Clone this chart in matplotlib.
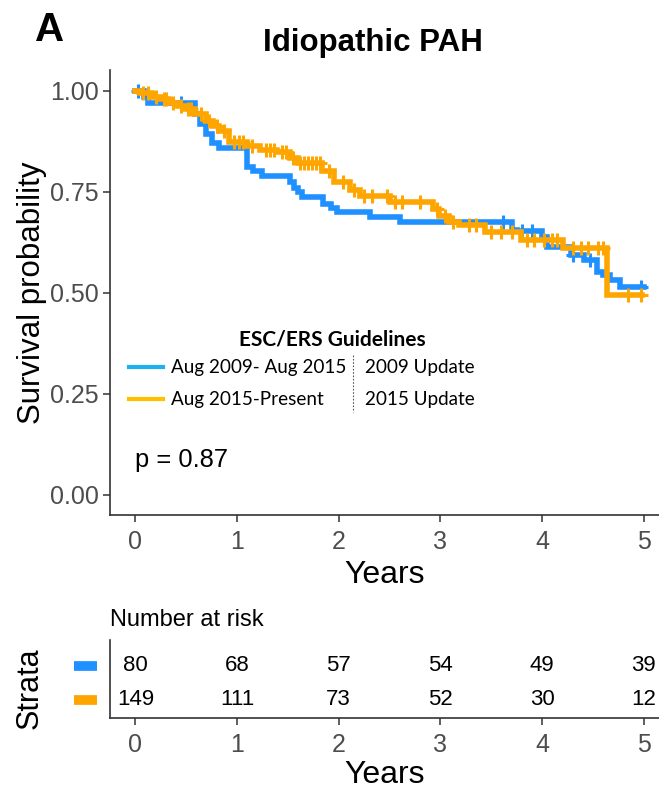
import numpy as np
import matplotlib
matplotlib.use("Agg")
import matplotlib.pyplot as plt
from matplotlib.lines import Line2D

plt.rcParams['font.family'] = ['Liberation Sans', 'DejaVu Sans']

# Kaplan-Meier step data: event times (years) and survival after each step
blue_t = [0.08, 0.12, 0.59, 0.64, 0.69, 0.75, 0.82, 1.10, 1.16, 1.25, 1.52, 1.56,
          1.60, 1.64, 1.85, 1.92, 1.98, 2.31, 2.60, 3.70, 3.75, 4.00, 4.05, 4.28,
          4.41, 4.54, 4.60, 4.67, 4.77]
blue_s = [0.985, 0.968, 0.943, 0.918, 0.893, 0.870, 0.857, 0.810, 0.800, 0.788,
          0.775, 0.760, 0.750, 0.737, 0.720, 0.710, 0.700, 0.687, 0.675, 0.654,
          0.652, 0.638, 0.613, 0.593, 0.580, 0.551, 0.543, 0.531, 0.514]
blue_end = 5.0
blue_cens = [0.03, 0.45, 3.62, 3.80, 3.90, 4.30, 4.47, 4.97]

orange_t = [0.05, 0.16, 0.25, 0.33, 0.42, 0.49, 0.59, 0.69, 0.76, 0.82, 0.92, 1.10,
            1.23, 1.39, 1.52, 1.60, 1.84, 1.95, 2.11, 2.21, 2.50, 2.93, 2.99, 3.08,
            3.18, 3.44, 3.79, 4.21, 4.64]
orange_s = [0.993, 0.985, 0.978, 0.970, 0.962, 0.955, 0.943, 0.925, 0.912, 0.900,
            0.873, 0.864, 0.852, 0.848, 0.832, 0.821, 0.800, 0.773, 0.753, 0.740,
            0.724, 0.708, 0.690, 0.675, 0.667, 0.650, 0.630, 0.610, 0.494]
orange_end = 4.98
orange_cens = [0.07, 0.12, 0.20, 0.28, 0.30, 0.37, 0.45, 0.52, 0.55, 0.65, 0.72,
               0.80, 0.87, 0.97, 1.02, 1.06, 1.15, 1.28, 1.32, 1.36, 1.44, 1.48,
               1.55, 1.62, 1.66, 1.70, 1.74, 1.78, 1.82, 1.90, 2.04, 2.15, 2.25,
               2.33, 2.47, 2.55, 2.62, 2.80, 2.97, 3.05, 3.12, 3.28, 3.35, 3.50,
               3.60, 3.70, 3.85, 3.92, 4.02, 4.10, 4.15, 4.30, 4.38, 4.45, 4.55,
               4.60, 4.85, 4.97]

risk_times = [0, 1, 2, 3, 4, 5]
blue_risk = [80, 68, 57, 54, 49, 39]
orange_risk = [149, 111, 73, 52, 30, 12]

legend_labels = ["Aug 2009- Aug 2015", "Aug 2015-Present"]
legend_notes = ["2009 Update", "2015 Update"]

BLUE = "#1E90FF"
ORANGE = "#FFA500"
LEG_BLUE = "#1FB0F0"
LEG_ORANGE = "#FFC000"
TICK_COL = "#4D4D4D"
LEG_FONT = ['Lato', 'DejaVu Sans']


def km_steps(t, s, end):
    x = np.concatenate([[0.0], t, [end]])
    y = np.concatenate([[1.0], s, [s[-1]]])
    return x, y


def surv_at(t, s, when):
    idx = np.searchsorted(np.asarray(t), np.asarray(when), side='right')
    vals = np.concatenate([[1.0], s])
    return vals[idx]


def style_axis(a):
    for side in ['top', 'right']:
        a.spines[side].set_visible(False)
    for side in ['left', 'bottom']:
        a.spines[side].set_linewidth(1.2)
        a.spines[side].set_color('#333333')
    a.tick_params(axis='both', labelsize=18, labelcolor=TICK_COL,
                  color='#333333', length=5, width=1.1, pad=3)
    a.tick_params(axis='x', pad=6)


fig = plt.figure(figsize=(6.59, 7.90), dpi=100)

ax = fig.add_axes([0.1669, 0.348, 0.8331, 0.563])
for t, s, end, cens, col in [(blue_t, blue_s, blue_end, blue_cens, BLUE),
                             (orange_t, orange_s, orange_end, orange_cens, ORANGE)]:
    x, y = km_steps(t, s, end)
    ax.step(x, y, where='post', color=col, lw=4.0, solid_joinstyle='miter')
    ax.plot(cens, surv_at(t, s, cens), ls='none', marker='+', ms=10, mew=2.2,
            color=col)

ax.set_xlim(-0.25, 5.15)
ax.set_ylim(-0.05, 1.05)
ax.set_xticks([0, 1, 2, 3, 4, 5])
ax.set_yticks([0, 0.25, 0.5, 0.75, 1.0])
ax.set_yticklabels(["0.00", "0.25", "0.50", "0.75", "1.00"])
style_axis(ax)
ax.set_xlabel("Years", fontsize=23, labelpad=4)
ax.set_ylabel("Survival probability", fontsize=22.5, labelpad=2)

ax.text(0.0, 0.085, "p = 0.87", fontsize=18.4, ha='left', va='center')

# guideline legend
fig.text(332 / 659, 1 - 339 / 790, "ESC/ERS Guidelines", fontsize=15,
         fontweight='bold', family=LEG_FONT, ha='center', va='center')
for i, (lab, note, lc) in enumerate(zip(legend_labels, legend_notes,
                                        [LEG_BLUE, LEG_ORANGE])):
    yy = 1 - (367 + 32 * i) / 790
    fig.add_artist(Line2D([129 / 659, 163 / 659], [yy, yy], color=lc, lw=3))
    fig.text(171 / 659, yy, lab, fontsize=13.6, family=LEG_FONT,
             ha='left', va='center')
    fig.text(365 / 659, yy, note, fontsize=13.6, family=LEG_FONT,
             ha='left', va='center')
fig.add_artist(Line2D([353 / 659, 353 / 659], [1 - 355 / 790, 1 - 412 / 790],
                      color='#555555', lw=0.8, ls=(0, (1.5, 1.5))))

fig.text(373 / 659, 1 - 43 / 790, "Idiopathic PAH", fontsize=22.5,
         fontweight='bold', ha='center', va='center')
fig.text(50 / 659, 1 - 30 / 790, "A", fontsize=29, fontweight='bold',
         ha='center', va='center')

# number-at-risk table
rt = fig.add_axes([0.1669, 0.0911, 0.8331, 0.0990])
rt.set_xlim(-0.25, 5.15)
rt.set_ylim(0.47, 2.76)
for xv, b, o in zip(risk_times, blue_risk, orange_risk):
    rt.text(xv, 2, str(b), ha='center', va='center', fontsize=16)
    rt.text(xv, 1, str(o), ha='center', va='center', fontsize=16)
rt.set_xticks(risk_times)
rt.set_yticks([])
style_axis(rt)
rt.set_xlabel("Years", fontsize=23, labelpad=2)
fig.text(110 / 659, 1 - 620 / 790, "Number at risk", fontsize=17,
         ha='left', va='center')
fig.text(30 / 659, 1 - 688 / 790, "Strata", fontsize=22, rotation=90,
         ha='center', va='center')
for yy, col in [(666, BLUE), (700, ORANGE)]:
    fig.add_artist(Line2D([74 / 659, 97 / 659], [1 - yy / 790, 1 - yy / 790],
                          color=col, lw=7, solid_capstyle='butt'))

fig.savefig("out.png", dpi=100)
